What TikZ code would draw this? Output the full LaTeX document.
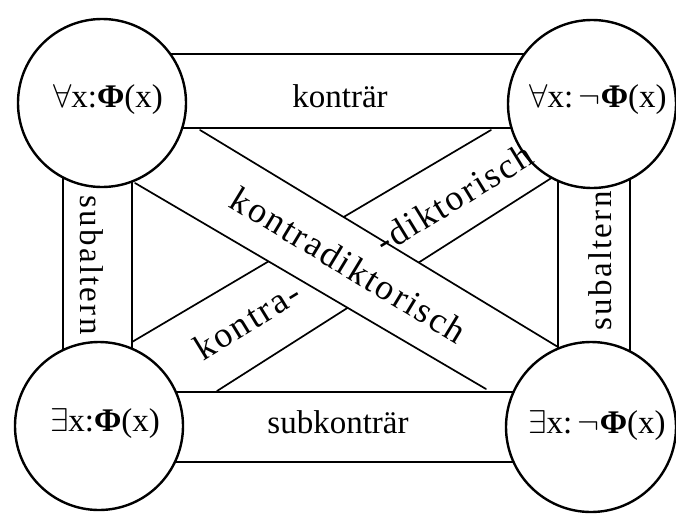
\RequirePackage{fix-cm}
\documentclass[tikz,border=0pt]{standalone}
\usepackage[no-math]{fontspec}
\setmainfont{Liberation Serif}
\newfontfamily\spacedfont[LetterSpace=6]{Liberation Serif}
\newfontfamily\spacedfontb[LetterSpace=7]{Liberation Serif}
\begin{document}
\begin{tikzpicture}[x=1pt,y=-1pt,
  bandline/.style={line width=1.7pt, line cap=round},
  ring/.style={circle, draw, line width=2.4pt, fill=white, minimum size=168pt, inner sep=0pt},
  lbl/.style={font=\fontsize{33}{38}\selectfont, inner sep=0pt},
  vlbl/.style={font=\fontsize{33}{38}\selectfont\spacedfontb, inner sep=0pt},
  dlbl/.style={font=\fontsize{36}{40}\selectfont\spacedfont, inner sep=0pt}]
\useasboundingbox (0,0) rectangle (676,514);
% band end points
\coordinate (u1a) at (200,130); \coordinate (u1b) at (558,347);
\coordinate (l1a) at (135,183); \coordinate (l1b) at (486,389);
\coordinate (u2a) at (132,342); \coordinate (u2b) at (491,130);
\coordinate (l2a) at (217,391); \coordinate (l2b) at (553,177);
% circle centres
\coordinate (cTL) at (102,103); \coordinate (cTR) at (592,104);
\coordinate (cBL) at (99,426);  \coordinate (cBR) at (591,427);
% band 2 (under)
\draw[bandline] (u2a) -- (u2b);
\draw[bandline] (l2a) -- (l2b);
% band 1 (over)
\fill[white] (u1a) -- (u1b) -- (l1b) -- (l1a) -- cycle;
\draw[bandline] (u1a) -- (u1b);
\draw[bandline] (l1a) -- (l1b);
% straight bands
\draw[bandline] (cTL |- 0,54) -- (cTR |- 0,54);
\draw[bandline] (cTL |- 0,128) -- (cTR |- 0,128);
\draw[bandline] (cBL |- 0,392) -- (cBR |- 0,392);
\draw[bandline] (cBL |- 0,462) -- (cBR |- 0,462);
\draw[bandline] (cTL -| 63,0) -- (cBL -| 63,0);
\draw[bandline] (cTL -| 132,0) -- (cBL -| 132,0);
\draw[bandline] (cTR -| 558,0) -- (cBR -| 558,0);
\draw[bandline] (cTR -| 630,0) -- (cBR -| 630,0);
% circles
\node[ring] (TL) at (cTL) {};
\node[ring] (TR) at (cTR) {};
\node[ring] (BL) at (cBL) {};
\node[ring, minimum size=170pt] (BR) at (cBR) {};
% formulas
\node[lbl, anchor=base] (fTL) at (108,107) {$\forall$x:\textbf{Φ}(x)};
\node[lbl, anchor=base] (fTR) at (598,107) {$\forall$x:\,$\neg$\textbf{Φ}(x)};
\node[lbl, anchor=base] (fBL) at (105,431) {$\exists$x:\textbf{Φ}(x)};
\node[lbl, anchor=base] (fBR) at (597,433) {$\exists$x:\,$\neg$\textbf{Φ}(x)};
% relation labels
\node[lbl, anchor=base] (kontr) at (340,107) {konträr};
\node[lbl, anchor=base] (subk) at (338,433) {subkonträr};
\node[vlbl, rotate=-90] (subL) at (92,265) {subaltern};
\node[vlbl, rotate=90] (subR) at (600,261) {subaltern};
\node[dlbl, rotate=-31.2] (kd) at (349,265) {kontradiktorisch};
\node[dlbl, rotate=31.5] (k1) at (247,320) {kontra-};
\node[dlbl, rotate=31.5] (k2) at (454,198) {-diktorisch};
\end{tikzpicture}
\end{document}
